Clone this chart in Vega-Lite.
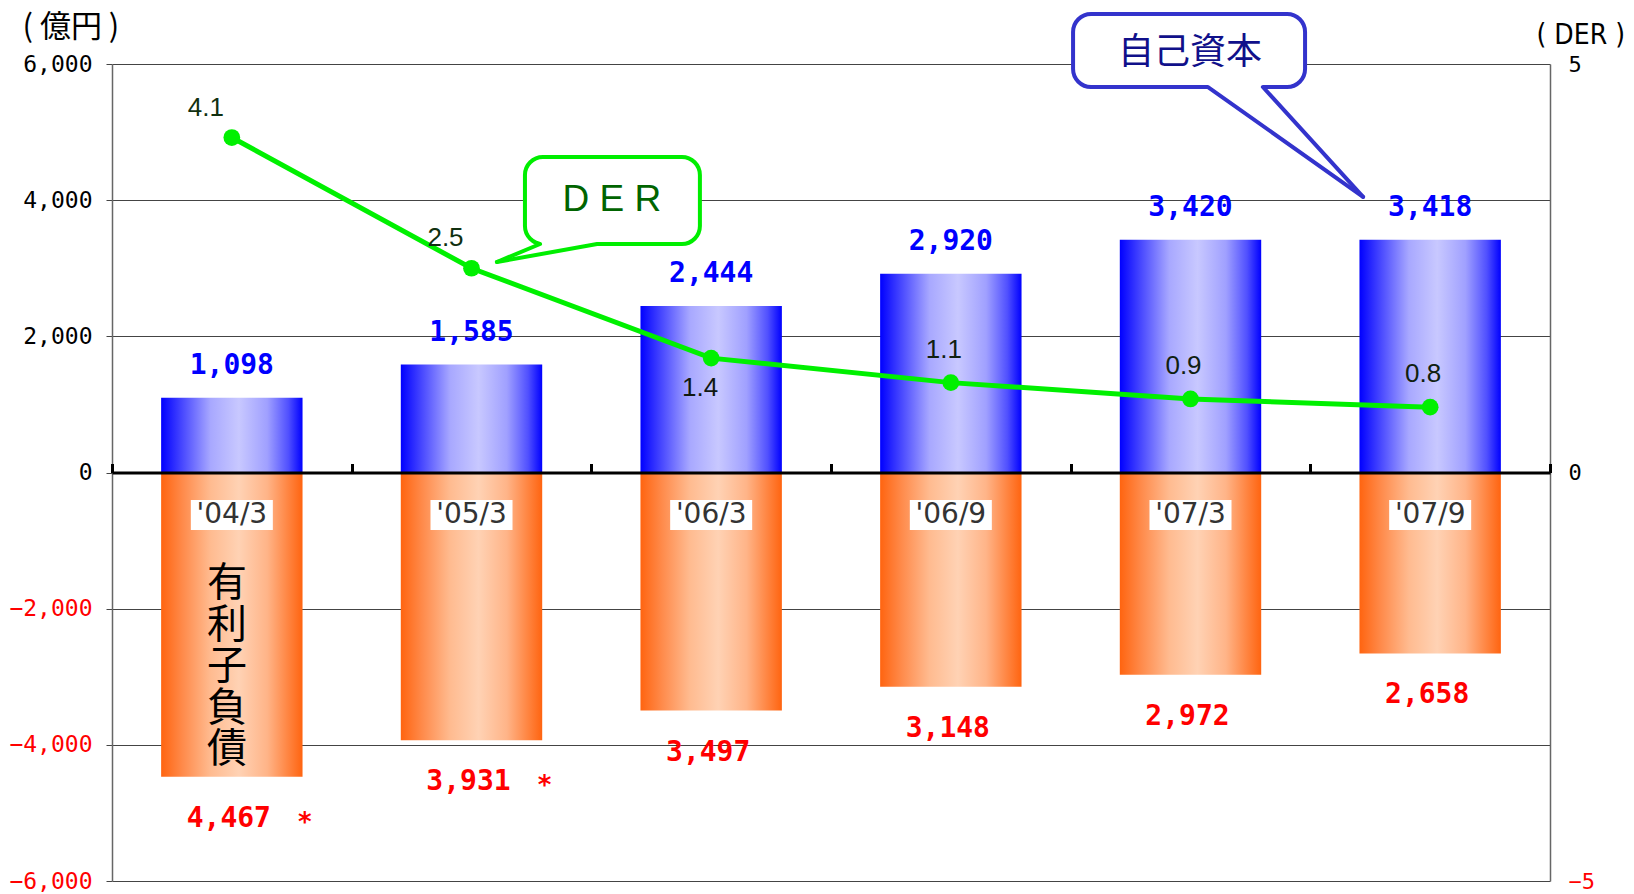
{
  "$schema": "https://vega.github.io/schema/vega-lite/v6.json",
  "width": 1438,
  "height": 817,
  "autosize": {"type": "none"},
  "padding": {"left": 112, "top": 64, "right": 84, "bottom": 13},
  "background": "white",
  "config": {"view": {"stroke": null}},
  "datasets": {
    "main": [
      {"period": "'04/3", "equity": 1098, "debt": 4467, "der": 4.1, "note": "*"},
      {"period": "'05/3", "equity": 1585, "debt": 3931, "der": 2.5, "note": "*"},
      {"period": "'06/3", "equity": 2444, "debt": 3497, "der": 1.4, "note": ""},
      {"period": "'06/9", "equity": 2920, "debt": 3148, "der": 1.1, "note": ""},
      {"period": "'07/3", "equity": 3420, "debt": 2972, "der": 0.9, "note": ""},
      {"period": "'07/9", "equity": 3418, "debt": 2658, "der": 0.8, "note": ""}
    ],
    "callouts": [
      {"name": "equity", "label": "自己資本", "x1": 4.01, "x2": 4.978, "y1": 6735, "y2": 5662, "tx": 4.498, "ty": 6162, "xa": 4.573, "xb": 4.802, "px": 5.22, "py": 4047},
      {"name": "der", "label": "D E R", "x1": 1.723, "x2": 2.453, "y1": 4634, "y2": 3356, "tx": 2.086, "ty": 4003, "xa": 1.786, "xb": 2.024, "px": 1.606, "py": 3092}
    ],
    "vertical": [
      {"label": "有\n利\n子\n負\n債", "x": 0.48, "y": -1640}
    ]
  },
  "data": {"name": "main"},
  "layer": [
    {
      "mark": {"type": "bar", "width": {"band": 0.59}, "fill": {"gradient": "linear", "x1": 0, "y1": 0, "x2": 1, "y2": 0, "stops": [
        {"offset": 0, "color": "#0000ff"}, {"offset": 0.12, "color": "#3a3aff"}, {"offset": 0.35, "color": "#a8a8ff"},
        {"offset": 0.55, "color": "#c8c8ff"}, {"offset": 0.75, "color": "#a0a0ff"}, {"offset": 0.9, "color": "#5050ff"}, {"offset": 1, "color": "#0000ff"}]}},
      "encoding": {
        "x": {"field": "period", "type": "nominal", "sort": null,
          "scale": {"domain": ["'04/3", "'05/3", "'06/3", "'06/9", "'07/3", "'07/9"], "paddingInner": 0, "paddingOuter": 0},
          "axis": {"orient": "top", "offset": -408.5, "labels": false, "title": null, "domainColor": "black", "domainWidth": 3, "ticks": true, "tickBand": "extent", "tickSize": 9, "tickWidth": 3, "tickColor": "black", "grid": false, "zindex": 1}},
        "y": {"field": "equity", "type": "quantitative",
          "scale": {"domain": [-6000, 6000], "nice": false, "zero": false},
          "axis": {"orient": "left", "values": [-6000, -4000, -2000, 0, 2000, 4000, 6000], "labelExpr": "format(datum.value, ',')", "grid": true, "gridColor": "#444", "gridWidth": 1,
            "domainColor": "#666", "domainWidth": 1.5, "tickSize": 6, "tickColor": "#444", "labelPadding": 14,
            "labelFont": "DejaVu Sans Mono", "labelFontSize": 23,
            "labelColor": {"condition": {"test": "datum.value < 0", "value": "#ff0000"}, "value": "black"},
            "title": "( 億円 )", "titleAngle": 0, "titleAlign": "left", "titleBaseline": "middle", "titleX": -90, "titleY": -37,
            "titleFont": "Noto Sans CJK JP", "titleFontSize": 31, "titleFontWeight": "normal", "titleColor": "black"}}
      }
    },
    {
      "mark": {"type": "bar", "fill": {"gradient": "linear", "x1": 0, "y1": 0, "x2": 1, "y2": 0, "stops": [
        {"offset": 0, "color": "#ff6410"}, {"offset": 0.15, "color": "#ff8a4a"}, {"offset": 0.35, "color": "#ffbb90"},
        {"offset": 0.55, "color": "#ffd2b4"}, {"offset": 0.75, "color": "#ffb488"}, {"offset": 0.9, "color": "#ff8440"}, {"offset": 1, "color": "#ff6410"}]}},
      "encoding": {
        "x": {"field": "period", "type": "nominal", "sort": null, "axis": null,
          "scale": {"domain": ["'04/3", "'05/3", "'06/3", "'06/9", "'07/3", "'07/9"], "paddingInner": 0.41, "paddingOuter": 0.205}},
        "y": {"field": "debt", "type": "quantitative", "axis": null,
          "scale": {"domain": [-6000, 6000], "nice": false, "zero": false, "reverse": true}}
      }
    },
    {
      "mark": {"type": "bar", "color": "white", "width": 82},
      "encoding": {
        "x": {"field": "period", "type": "nominal", "sort": null, "axis": null,
          "scale": {"domain": ["'04/3", "'05/3", "'06/3", "'06/9", "'07/3", "'07/9"], "paddingInner": 0.41, "paddingOuter": 0.205}},
        "y": {"datum": -404, "type": "quantitative", "axis": null, "scale": {"domain": [-6000, 6000], "nice": false, "zero": false}},
        "y2": {"datum": -845}
      }
    },
    {
      "mark": {"type": "text", "font": "DejaVu Sans", "fontSize": 28, "color": "#333333", "baseline": "middle", "align": "center"},
      "encoding": {
        "x": {"field": "period", "type": "nominal", "sort": null, "axis": null,
          "scale": {"domain": ["'04/3", "'05/3", "'06/3", "'06/9", "'07/3", "'07/9"], "paddingInner": 0.41, "paddingOuter": 0.205}},
        "y": {"datum": -624, "type": "quantitative", "axis": null, "scale": {"domain": [-6000, 6000], "nice": false, "zero": false}},
        "text": {"field": "period", "type": "nominal"}
      }
    },
    {
      "mark": {"type": "text", "font": "DejaVu Sans Mono", "fontSize": 28, "fontWeight": "bold", "color": "#0000ff", "baseline": "middle", "dy": -32},
      "encoding": {
        "x": {"field": "period", "type": "nominal", "sort": null, "axis": null,
          "scale": {"domain": ["'04/3", "'05/3", "'06/3", "'06/9", "'07/3", "'07/9"], "paddingInner": 0.41, "paddingOuter": 0.205}},
        "y": {"field": "equity", "type": "quantitative", "axis": null, "scale": {"domain": [-6000, 6000], "nice": false, "zero": false}},
        "text": {"field": "equity", "type": "quantitative", "format": ","}
      }
    },
    {
      "mark": {"type": "text", "font": "DejaVu Sans Mono", "fontSize": 28, "fontWeight": "bold", "color": "#ff0000", "baseline": "middle", "dy": 42, "dx": -3},
      "encoding": {
        "x": {"field": "period", "type": "nominal", "sort": null, "axis": null,
          "scale": {"domain": ["'04/3", "'05/3", "'06/3", "'06/9", "'07/3", "'07/9"], "paddingInner": 0.41, "paddingOuter": 0.205}},
        "y": {"field": "debt", "type": "quantitative", "axis": null, "scale": {"domain": [-6000, 6000], "nice": false, "zero": false, "reverse": true}},
        "text": {"field": "debt", "type": "quantitative", "format": ","}
      }
    },
    {
      "transform": [{"filter": "datum.note != ''"}],
      "mark": {"type": "text", "font": "DejaVu Sans Mono", "fontSize": 26, "fontWeight": "bold", "color": "#ff0000", "baseline": "middle", "dy": 46, "dx": 73},
      "encoding": {
        "x": {"field": "period", "type": "nominal", "sort": null, "axis": null,
          "scale": {"domain": ["'04/3", "'05/3", "'06/3", "'06/9", "'07/3", "'07/9"], "paddingInner": 0.41, "paddingOuter": 0.205}},
        "y": {"field": "debt", "type": "quantitative", "axis": null, "scale": {"domain": [-6000, 6000], "nice": false, "zero": false, "reverse": true}},
        "text": {"field": "note", "type": "nominal"}
      }
    },
    {
      "mark": {"type": "line", "color": "#00f000", "strokeWidth": 5, "point": {"filled": true, "size": 280, "color": "#00f000"}},
      "encoding": {
        "x": {"field": "period", "type": "nominal", "sort": null, "axis": null,
          "scale": {"domain": ["'04/3", "'05/3", "'06/3", "'06/9", "'07/3", "'07/9"], "paddingInner": 0.41, "paddingOuter": 0.205}},
        "y": {"field": "der", "type": "quantitative",
          "scale": {"domain": [-5, 5], "nice": false, "zero": false},
          "axis": {"orient": "right", "values": [-5, 0, 5], "grid": false, "domainColor": "#666", "domainWidth": 1.5, "ticks": false, "labelPadding": 18,
            "labelFont": "DejaVu Sans Mono", "labelFontSize": 22,
            "labelColor": {"condition": {"test": "datum.value < 0", "value": "#ff0000"}, "value": "black"},
            "title": "( DER )", "titleAngle": 0, "titleAlign": "left", "titleBaseline": "middle", "titleX": -14, "titleY": -29,
            "titleFont": "DejaVu Sans Condensed, Liberation Sans", "titleFontSize": 28, "titleFontWeight": "normal", "titleColor": "black"}}
      }
    },
    {
      "transform": [{"filter": "datum.der >= 2"}],
      "mark": {"type": "text", "font": "Liberation Sans", "fontSize": 26, "color": "#103010", "baseline": "middle", "dx": -26, "dy": -30},
      "encoding": {
        "x": {"field": "period", "type": "nominal", "sort": null, "axis": null,
          "scale": {"domain": ["'04/3", "'05/3", "'06/3", "'06/9", "'07/3", "'07/9"], "paddingInner": 0.41, "paddingOuter": 0.205}},
        "y": {"field": "der", "type": "quantitative", "axis": null, "scale": {"domain": [-5, 5], "nice": false, "zero": false}},
        "text": {"field": "der", "type": "quantitative", "format": ".1f"}
      }
    },
    {
      "transform": [{"filter": "datum.der > 1.2 && datum.der < 2"}],
      "mark": {"type": "text", "font": "Liberation Sans", "fontSize": 26, "color": "#101810", "baseline": "middle", "dx": -11, "dy": 30},
      "encoding": {
        "x": {"field": "period", "type": "nominal", "sort": null, "axis": null,
          "scale": {"domain": ["'04/3", "'05/3", "'06/3", "'06/9", "'07/3", "'07/9"], "paddingInner": 0.41, "paddingOuter": 0.205}},
        "y": {"field": "der", "type": "quantitative", "axis": null, "scale": {"domain": [-5, 5], "nice": false, "zero": false}},
        "text": {"field": "der", "type": "quantitative", "format": ".1f"}
      }
    },
    {
      "transform": [{"filter": "datum.der <= 1.2"}],
      "mark": {"type": "text", "font": "Liberation Sans", "fontSize": 26, "color": "#102010", "baseline": "middle", "dx": -7, "dy": -33},
      "encoding": {
        "x": {"field": "period", "type": "nominal", "sort": null, "axis": null,
          "scale": {"domain": ["'04/3", "'05/3", "'06/3", "'06/9", "'07/3", "'07/9"], "paddingInner": 0.41, "paddingOuter": 0.205}},
        "y": {"field": "der", "type": "quantitative", "axis": null, "scale": {"domain": [-5, 5], "nice": false, "zero": false}},
        "text": {"field": "der", "type": "quantitative", "format": ".1f"}
      }
    },
    {
      "data": {"name": "vertical"},
      "mark": {"type": "text", "font": "Noto Sans CJK JP", "fontSize": 40, "lineHeight": 41.5, "lineBreak": "\n", "color": "black", "baseline": "middle", "align": "center"},
      "encoding": {
        "x": {"field": "x", "type": "quantitative", "axis": null, "scale": {"domain": [0, 6], "nice": false, "zero": false}},
        "y": {"field": "y", "type": "quantitative", "axis": null, "scale": {"domain": [-6000, 6000], "nice": false, "zero": false}},
        "text": {"field": "label", "type": "nominal"}
      }
    },
    {
      "data": {"name": "callouts"},
      "mark": {"type": "rect", "fill": "white", "strokeWidth": 4, "cornerRadius": 18},
      "encoding": {
        "x": {"field": "x1", "type": "quantitative", "axis": null, "scale": {"domain": [0, 6], "nice": false, "zero": false}},
        "x2": {"field": "x2"},
        "y": {"field": "y1", "type": "quantitative", "axis": null, "scale": {"domain": [-6000, 6000], "nice": false, "zero": false}},
        "y2": {"field": "y2"},
        "stroke": {"field": "name", "type": "nominal", "scale": {"domain": ["equity", "der"], "range": ["#3333cc", "#00ee00"]}, "legend": null}
      }
    },
    {
      "data": {"name": "callouts"},
      "mark": {"type": "rule", "color": "white", "strokeWidth": 7},
      "encoding": {
        "x": {"field": "xa", "type": "quantitative", "axis": null, "scale": {"domain": [0, 6], "nice": false, "zero": false}},
        "x2": {"field": "xb"},
        "y": {"field": "y2", "type": "quantitative", "axis": null, "scale": {"domain": [-6000, 6000], "nice": false, "zero": false}}
      }
    },
    {
      "data": {"name": "callouts"},
      "mark": {"type": "rule", "strokeWidth": 4, "strokeCap": "round"},
      "encoding": {
        "x": {"field": "xa", "type": "quantitative", "axis": null, "scale": {"domain": [0, 6], "nice": false, "zero": false}},
        "x2": {"field": "px"},
        "y": {"field": "y2", "type": "quantitative", "axis": null, "scale": {"domain": [-6000, 6000], "nice": false, "zero": false}},
        "y2": {"field": "py"},
        "color": {"field": "name", "type": "nominal", "scale": {"domain": ["equity", "der"], "range": ["#3333cc", "#00ee00"]}, "legend": null}
      }
    },
    {
      "data": {"name": "callouts"},
      "mark": {"type": "rule", "strokeWidth": 4, "strokeCap": "round"},
      "encoding": {
        "x": {"field": "xb", "type": "quantitative", "axis": null, "scale": {"domain": [0, 6], "nice": false, "zero": false}},
        "x2": {"field": "px"},
        "y": {"field": "y2", "type": "quantitative", "axis": null, "scale": {"domain": [-6000, 6000], "nice": false, "zero": false}},
        "y2": {"field": "py"},
        "color": {"field": "name", "type": "nominal", "scale": {"domain": ["equity", "der"], "range": ["#3333cc", "#00ee00"]}, "legend": null}
      }
    },
    {
      "data": {"name": "callouts"},
      "transform": [{"filter": "datum.name == 'equity'"}],
      "mark": {"type": "text", "font": "Noto Sans CJK JP", "fontSize": 36, "color": "#10108a", "baseline": "middle", "align": "center"},
      "encoding": {
        "x": {"field": "tx", "type": "quantitative", "axis": null, "scale": {"domain": [0, 6], "nice": false, "zero": false}},
        "y": {"field": "ty", "type": "quantitative", "axis": null, "scale": {"domain": [-6000, 6000], "nice": false, "zero": false}},
        "text": {"field": "label", "type": "nominal"}
      }
    },
    {
      "data": {"name": "callouts"},
      "transform": [{"filter": "datum.name == 'der'"}],
      "mark": {"type": "text", "font": "Liberation Sans", "fontSize": 37, "color": "#006400", "baseline": "middle", "align": "center"},
      "encoding": {
        "x": {"field": "tx", "type": "quantitative", "axis": null, "scale": {"domain": [0, 6], "nice": false, "zero": false}},
        "y": {"field": "ty", "type": "quantitative", "axis": null, "scale": {"domain": [-6000, 6000], "nice": false, "zero": false}},
        "text": {"field": "label", "type": "nominal"}
      }
    }
  ],
  "resolve": {"scale": {"x": "independent", "y": "independent", "color": "independent", "stroke": "independent"}}
}
